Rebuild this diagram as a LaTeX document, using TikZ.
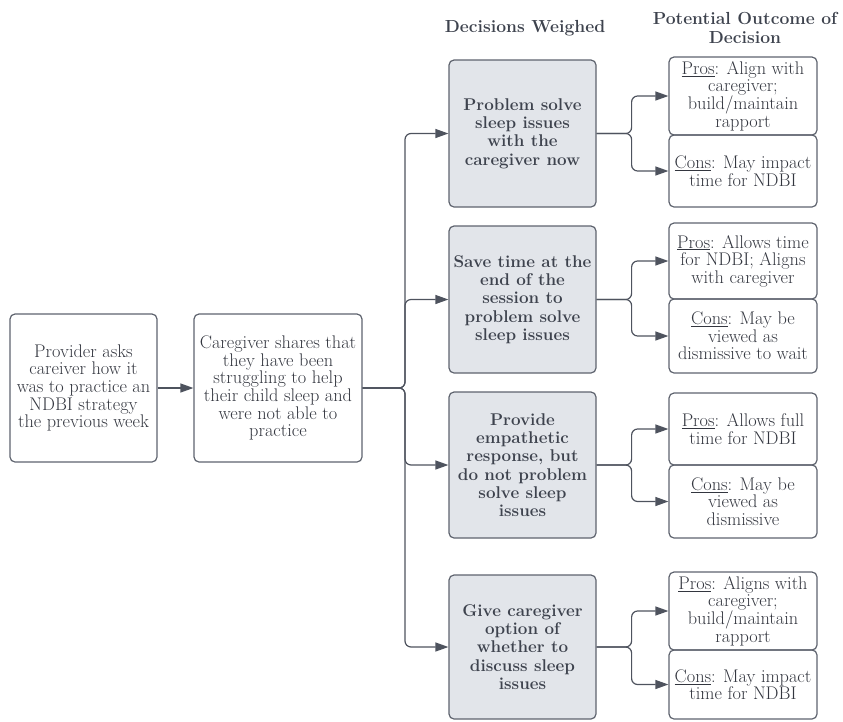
\documentclass[tikz,border=0pt]{standalone}
\usetikzlibrary{arrows.meta}
\definecolor{bordc}{HTML}{5E636E}
\definecolor{txtc}{HTML}{33363F}
\definecolor{dtxtc}{HTML}{3E434E}
\definecolor{decfill}{HTML}{E2E5EA}
\definecolor{linec}{HTML}{4E535E}
\tikzset{
  basebox/.style={rectangle, rounded corners=5pt, draw=bordc, line width=1.2pt, text=txtc, align=center, inner sep=0pt, font=\fontsize{18.3}{17.6}\selectfont},
  provbox/.style={basebox, minimum width=147pt, minimum height=148pt},
  decbox/.style={basebox, fill=decfill, text=dtxtc, minimum width=147pt, font=\fontsize{17}{18.3}\selectfont\bfseries},
  outbox/.style={basebox, minimum width=148pt},
  hdr/.style={text=dtxtc, align=center, font=\fontsize{17.5}{18.5}\selectfont\bfseries},
  arr/.style={draw=linec, line width=1.2pt, -{Triangle[length=13pt,width=9pt]}, rounded corners=6pt},
}
\begin{document}
\begin{tikzpicture}[x=1pt,y=-1pt]
\useasboundingbox (0,0) rectangle (843,721);
% headers
\node[hdr] (h1) at (525,28) {Decisions Weighed};
\node[hdr] (h2) at (745,28) {Potential Outcome of\\Decision};
% left boxes
\node[provbox] (p1) at (83.5,388) {Provider asks\\careiver how it\\was to practice an\\NDBI strategy\\the previous week};
\node[provbox, minimum width=168pt] (p2) at (278,388) {Caregiver shares that\\they have been\\struggling to help\\their child sleep and\\were not able to\\practice};
% decisions
\node[decbox, minimum height=147pt] (d1) at (522.5,133.5) {Problem solve\\sleep issues\\with the\\caregiver now};
\node[decbox, minimum height=147pt] (d2) at (522.5,299.5) {Save time at the\\end of the\\session to\\problem solve\\sleep issues};
\node[decbox, minimum height=146pt] (d3) at (522.5,465) {Provide\\empathetic\\response, but\\do not problem\\solve sleep\\issues};
\node[decbox, minimum height=144pt] (d4) at (522.5,647) {Give caregiver\\option of\\whether to\\discuss sleep\\issues};
% outcomes
\node[outbox, minimum height=78pt] (o1p) at (743,96) {\underline{Pros}: Align with\\caregiver;\\build/maintain\\rapport};
\node[outbox, minimum height=72pt] (o1c) at (743,171) {\underline{Cons}: May impact\\time for NDBI};
\node[outbox, minimum height=76pt] (o2p) at (743,261) {\underline{Pros}: Allows time\\for NDBI; Aligns\\with caregiver};
\node[outbox, minimum height=74pt] (o2c) at (743,336) {\underline{Cons}: May be\\viewed as\\dismissive to wait};
\node[outbox, minimum height=72pt] (o3p) at (743,429) {\underline{Pros}: Allows full\\time for NDBI};
\node[outbox, minimum height=73pt] (o3c) at (743,501.5) {\underline{Cons}: May be\\viewed as\\dismissive};
\node[outbox, minimum height=78pt] (o4p) at (743,611) {\underline{Pros}: Aligns with\\caregiver;\\build/maintain\\rapport};
\node[outbox, minimum height=69pt] (o4c) at (743,684.5) {\underline{Cons}: May impact\\time for NDBI};
% connectors
\draw[arr] (p1) -- (p2);
\coordinate (tr) at (405,388);
\draw[arr] (p2.east) -- (tr) |- (d1.west);
\draw[arr] (p2.east) -- (tr) |- (d2.west);
\draw[arr] (p2.east) -- (tr) |- (d3.west);
\draw[arr] (p2.east) -- (tr) |- (d4.west);
\draw[arr] (d1.east) -- ++(35,0) |- (o1p.west);
\draw[arr] (d1.east) -- ++(35,0) |- (o1c.west);
\draw[arr] (d2.east) -- ++(35,0) |- (o2p.west);
\draw[arr] (d2.east) -- ++(35,0) |- (o2c.west);
\draw[arr] (d3.east) -- ++(35,0) |- (o3p.west);
\draw[arr] (d3.east) -- ++(35,0) |- (o3c.west);
\draw[arr] (d4.east) -- ++(35,0) |- (o4p.west);
\draw[arr] (d4.east) -- ++(35,0) |- (o4c.west);
\end{tikzpicture}
\end{document}
